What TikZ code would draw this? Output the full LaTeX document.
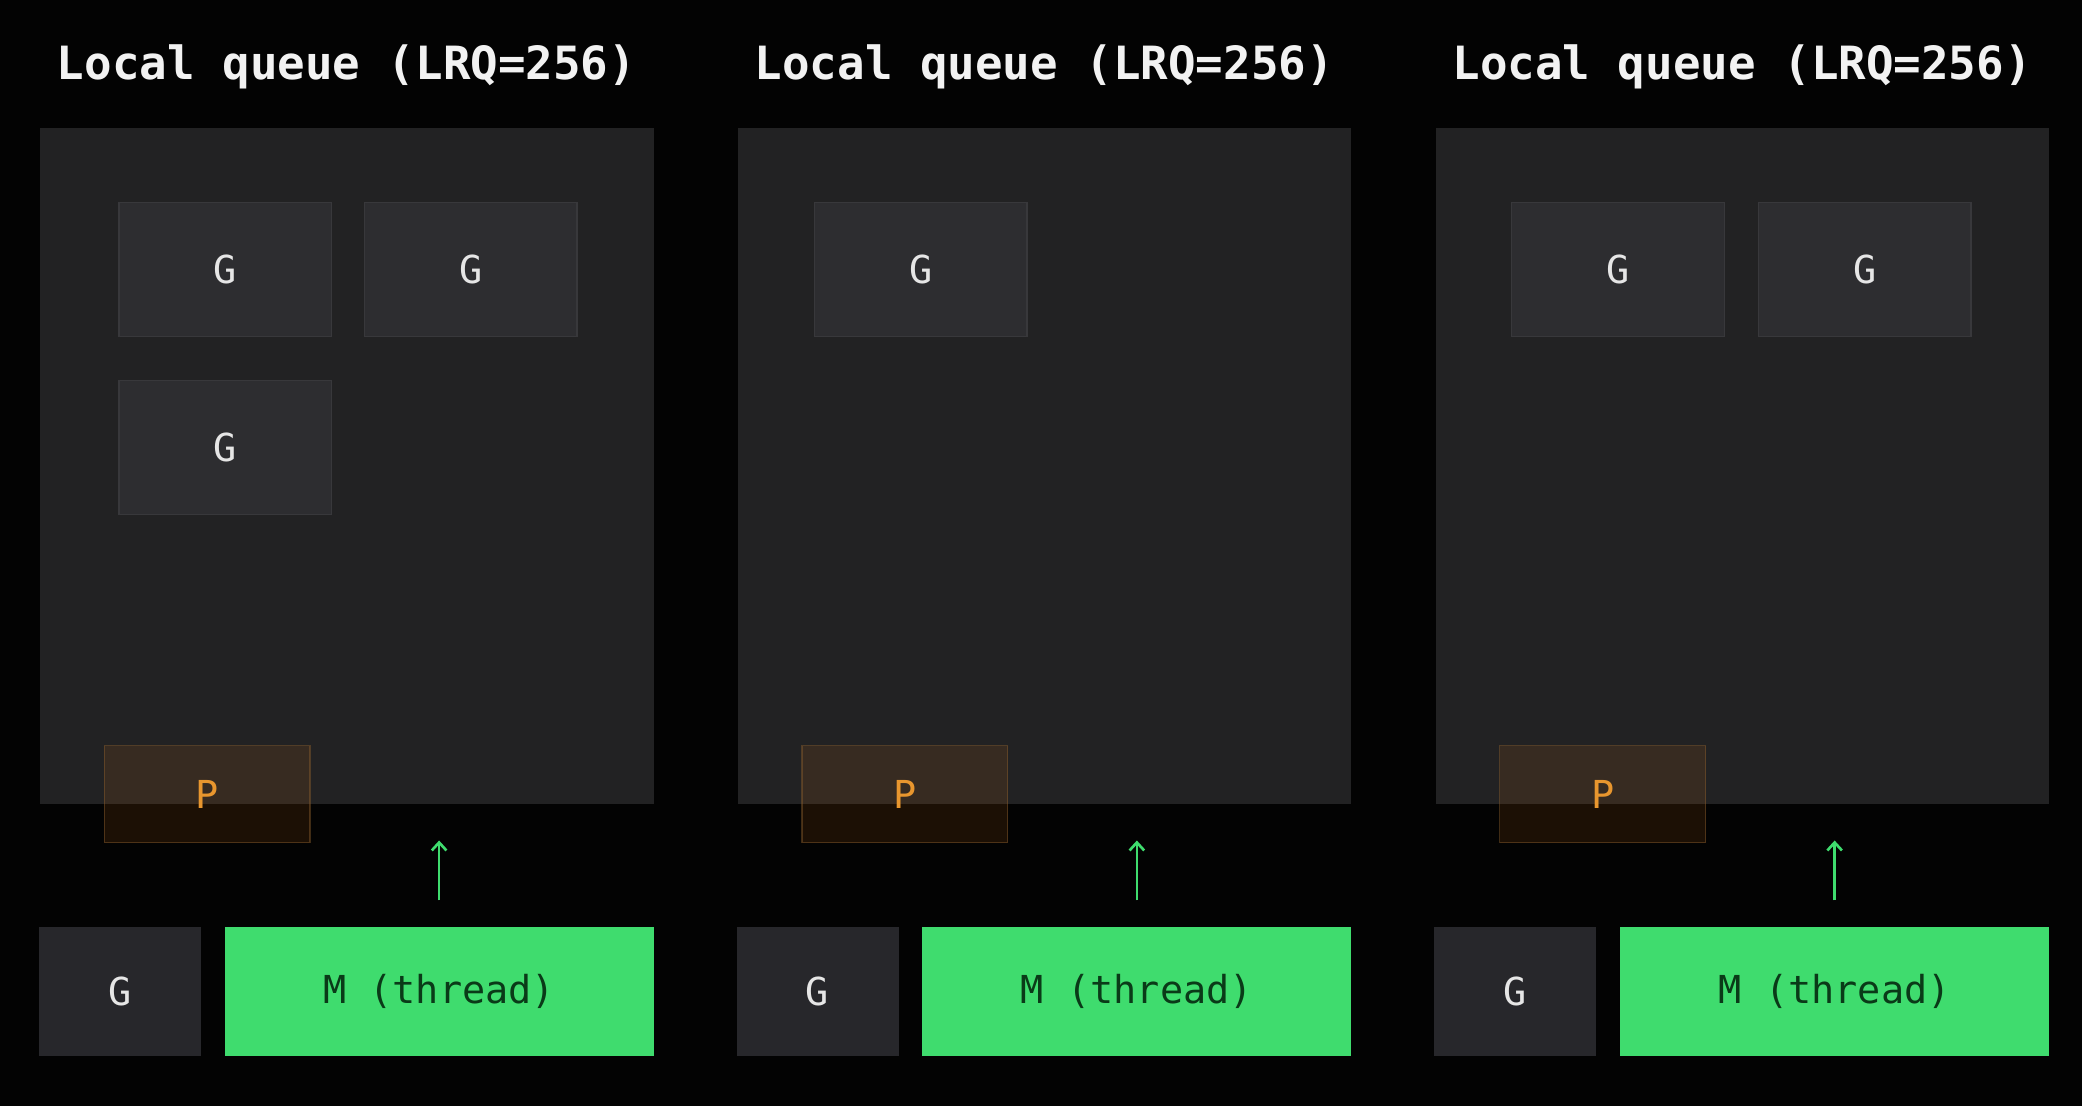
\documentclass[tikz,border=0pt]{standalone}
\usepackage{fontspec}
\setmonofont{DejaVu Sans Mono}
\usetikzlibrary{arrows.meta}
\definecolor{bgc}{HTML}{030303}
\definecolor{panelc}{HTML}{222223}
\definecolor{gfill}{HTML}{2D2D30}
\definecolor{gline}{HTML}{38383B}
\definecolor{bgfill}{HTML}{27272B}
\definecolor{greenc}{HTML}{3FDC6E}
\definecolor{mtext}{HTML}{0A3A18}
\definecolor{pfill}{RGB}{200,110,20}
\definecolor{pline}{RGB}{140,95,45}
\definecolor{ptext}{HTML}{E8962E}
\definecolor{titlec}{HTML}{F2F2F2}
\definecolor{gtext}{HTML}{E6E6E6}
\tikzset{
  box/.style={rectangle, inner sep=0pt, anchor=north west},
  queuebox/.style={box, fill=panelc, minimum width=462pt, minimum height=509pt},
  titlelabel/.style={text=titlec, font=\ttfamily\bfseries\fontsize{34.5}{40}\selectfont},
  gbox/.style={box, fill=gfill, draw=gline, line width=1pt, minimum width=160pt, minimum height=101pt,
     text=gtext, font=\ttfamily\fontsize{29}{34}\selectfont},
  pbox/.style={box, fill=pfill, fill opacity=0.13, draw=pline, draw opacity=0.45, line width=1pt,
     text opacity=1, text=ptext, minimum width=155pt, minimum height=73pt,
     font=\ttfamily\fontsize{29}{34}\selectfont},
  botg/.style={box, fill=bgfill, minimum width=122pt, minimum height=97pt,
     text=gtext, font=\ttfamily\fontsize{29}{34}\selectfont},
  mbox/.style={box, fill=greenc, minimum width=323pt, minimum height=97pt,
     text=mtext, font=\ttfamily\fontsize{29}{34}\selectfont},
  uparrow/.style={draw=greenc, line width=2pt, -{Straight Barb[length=6pt,width=11pt,line width=2pt]}},
}
\begin{document}
\begin{tikzpicture}[x=1pt,y=-1pt]
\fill[bgc] (0,0) rectangle (1568,833);
\useasboundingbox (0,0) rectangle (1568,833);
\foreach \i/\dx in {1/0,2/525.5,3/1051}{
  \node[queuebox] (q\i) at (30+\dx,96) {};
  \node[titlelabel] (t\i) at (261+\dx,50) {Local queue (LRQ=256)};
  \node[pbox] (p\i) at (78+\dx,561) {P};
  \node[botg] (bg\i) at (29+\dx,698) {G};
  \node[mbox] (m\i) at (169+\dx,698) {M (thread)};
  \draw[uparrow] ([yshift=20pt]m\i.north) -- ([yshift=65pt]m\i.north);
}
% panel 1 goroutines
\node[gbox] (g11) at (89,152) {G};
\node[gbox] (g12) at (274,152) {G};
\node[gbox] (g13) at (89,286) {G};
% panel 2
\node[gbox] (g21) at (613,152) {G};
% panel 3
\node[gbox] (g31) at (1138,152) {G};
\node[gbox] (g32) at (1324,152) {G};
\end{tikzpicture}
\end{document}
